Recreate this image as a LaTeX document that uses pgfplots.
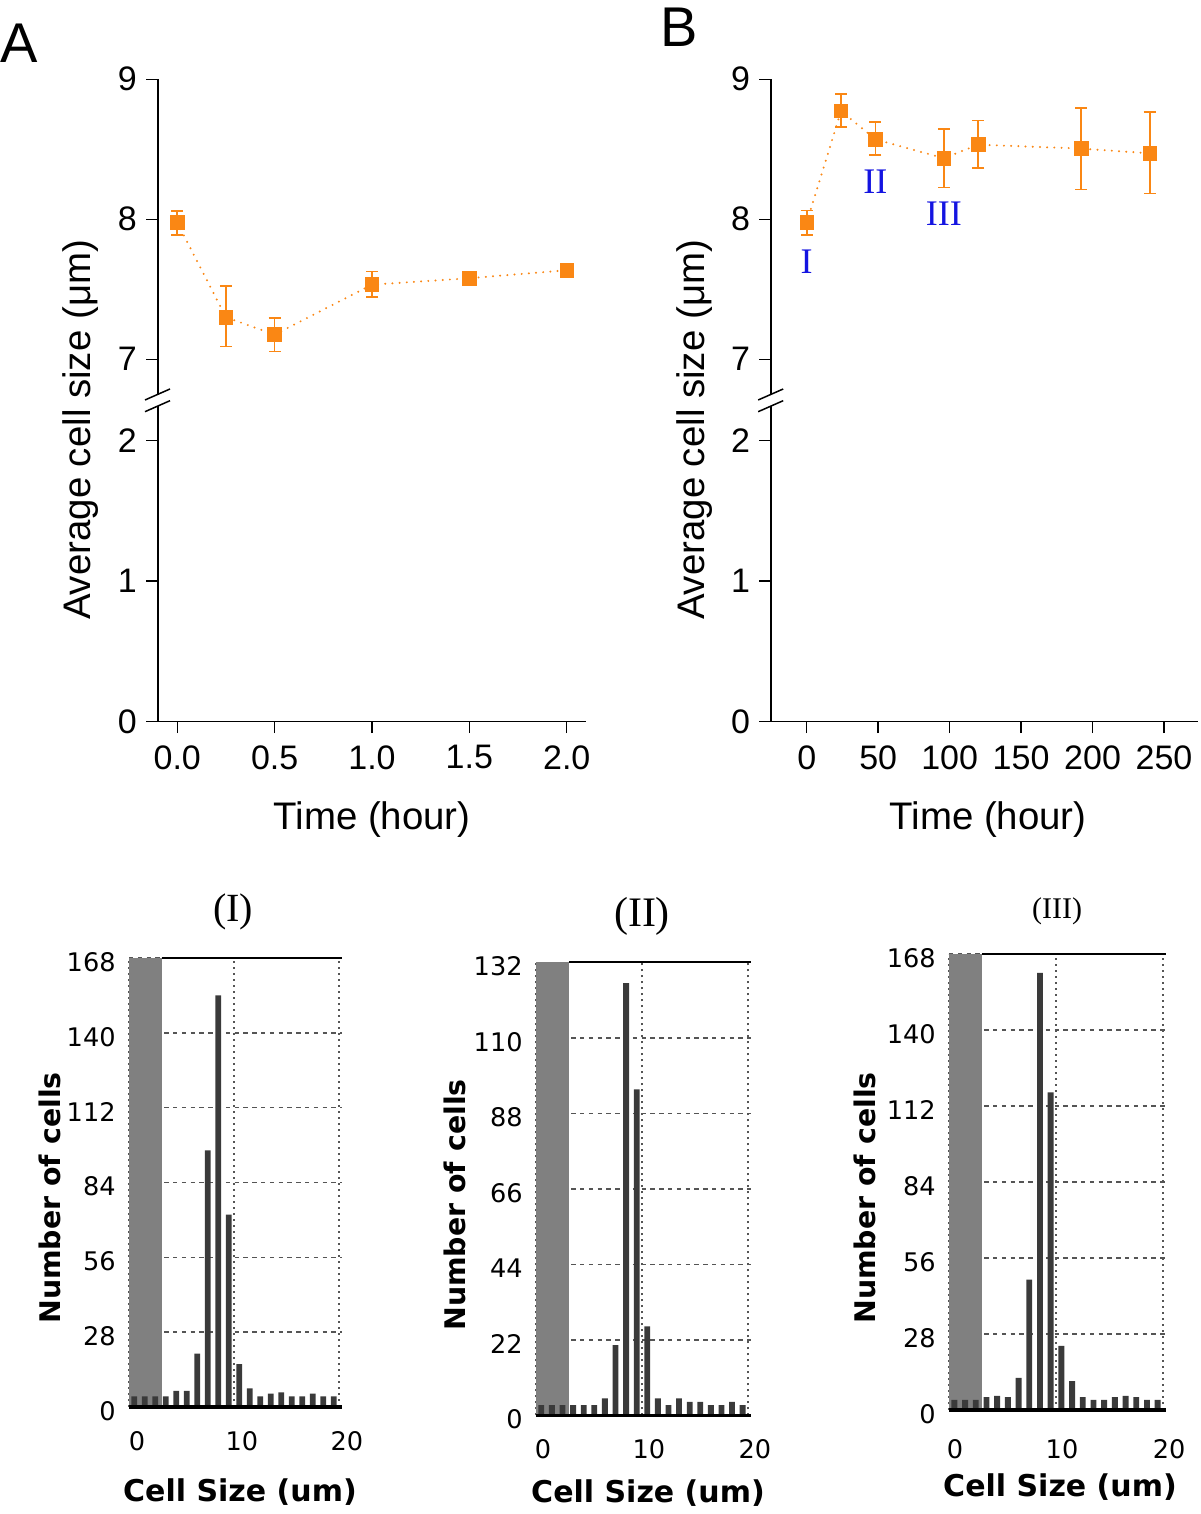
\documentclass[border=0pt]{standalone}
\usepackage{fontspec}
\setmainfont{Liberation Sans}
\newfontfamily\vfont{DejaVu Sans}
\newfontfamily\tfont{Liberation Serif}
\usepackage{pgfplots}
\usepackage{pgfplotstable}
\pgfplotsset{compat=1.18}

\definecolor{ora}{RGB}{250,135,20}
\definecolor{numblue}{RGB}{20,20,225}
\definecolor{bargray}{RGB}{58,58,58}
\definecolor{shade}{RGB}{128,128,128}
\definecolor{gridc}{RGB}{85,85,85}

% time, mean, error up, error down
\pgfplotstableread{
t     m      ep     em
0     7.976  0.085  0.090
0.25  7.300  0.224  0.210
0.5   7.176  0.119  0.121
1     7.533  0.093  0.088
1.5   7.579  0.010  0.010
2     7.636  0.010  0.010
}\dataA
\pgfplotstableread{
t     m      ep     em
0     7.976  0.088  0.090
24    8.774  0.121  0.114
48    8.571  0.124  0.114
96    8.436  0.209  0.210
120   8.533  0.172  0.166
192   8.505  0.288  0.291
240   8.471  0.296  0.288
}\dataB

\pgfplotsset{
  topbase/.style={
    scale only axis, height=157.5pt, anchor=south west, clip=false,
    axis line style={line width=0.75pt, -},
    tick style={line width=0.75pt, black},
    tick align=outside, major tick length=5.85pt,
    ticklabel style={font=\fontsize{17}{17}\selectfont},
    yticklabel style={inner sep=0pt, xshift=-4.5pt},
    xticklabel style={inner sep=0pt, yshift=-6pt},
    /pgf/number format/assume math mode=true,
  },
  dotline/.style={ora, line width=1.1pt, dash pattern=on 0pt off 3.6pt, line cap=round},
  sqmarks/.style={
    ora, only marks, mark=square*, mark size=3.4pt,
    error bars/.cd, y dir=both, y explicit,
    error bar style={line width=0.8pt},
    error mark options={rotate=90, line width=0.8pt, mark size=3pt},
  },
  hist/.style={
    scale only axis, anchor=south west, clip=false,
    xmin=0, xmax=20.25, ymin=0,
    axis line style={draw=none}, major tick length=0pt,
    xtick={0,10,20},
    xmajorgrids, ymajorgrids,
    x grid style={gridc, line width=0.7pt, dash pattern=on 1.2pt off 1.8pt},
    y grid style={gridc, line width=0.7pt, dash pattern=on 2.2pt off 2.2pt},
    ticklabel style={font=\vfont\fontsize{12.8}{12.8}\selectfont},
    yticklabel style={inner sep=0pt, anchor=east, xshift=-6.5pt, yshift=-2pt},
    /pgf/number format/assume math mode=true,
  },
  bars/.style={ybar, bar width=0.55, bar shift=0pt, fill=bargray, draw=none},
}

\begin{document}
\begin{tikzpicture}
\path[use as bounding box] (0,0) rectangle (600pt,757pt);

% ---------- panel A ----------
\begin{axis}[topbase, at={(78.9pt,559.85pt)}, width=214.2pt,
  xmin=-0.1, xmax=2.1, ymin=6.75, ymax=9,
  axis x line=none, axis y line*=left, xtick=\empty, ytick={7,8,9}]
\addplot[dotline] table[x=t, y=m] {\dataA};
\addplot[sqmarks] table[x=t, y=m, y error plus=ep, y error minus=em] {\dataA};
\end{axis}
\begin{axis}[topbase, at={(78.9pt,396.25pt)}, width=214.2pt,
  xmin=-0.1, xmax=2.1, ymin=0, ymax=2.242,
  axis x line*=bottom, axis y line*=left, ytick={0,1,2},
  xtick={0,0.5,1,1.5,2},
  xticklabel style={/pgf/number format/.cd, fixed, fixed zerofill, precision=1}]
\end{axis}
\draw[line width=0.75pt] (72.5pt,557pt) -- (85pt,562.5pt);
\draw[line width=0.75pt] (72.5pt,551.15pt) -- (85pt,556.65pt);

% ---------- panel B ----------
\begin{axis}[topbase, at={(385.5pt,559.85pt)}, width=213.65pt,
  xmin=-25, xmax=274, ymin=6.75, ymax=9,
  axis x line=none, axis y line*=left, xtick=\empty, ytick={7,8,9}]
\addplot[dotline] table[x=t, y=m] {\dataB};
\addplot[sqmarks] table[x=t, y=m, y error plus=ep, y error minus=em] {\dataB};
\node[numblue, font=\tfont\fontsize{18}{18}\selectfont] at (axis cs:0,7.695) {I};
\node[numblue, font=\tfont\fontsize{18}{18}\selectfont] at (axis cs:48,8.27) {II};
\node[numblue, font=\tfont\fontsize{18}{18}\selectfont] at (axis cs:96,8.04) {III};
\end{axis}
\begin{axis}[topbase, at={(385.5pt,396.25pt)}, width=213.65pt,
  xmin=-25, xmax=274, ymin=0, ymax=2.242,
  axis x line*=bottom, axis y line*=left, ytick={0,1,2},
  xtick={0,50,100,150,200,250}]
\end{axis}
\draw[line width=0.75pt] (379.1pt,557pt) -- (391.6pt,562.5pt);
\draw[line width=0.75pt] (379.1pt,551.15pt) -- (391.6pt,556.65pt);

% labels of the top panels
\node[font=\fontsize{28}{28}\selectfont] at (9.5pt,735.5pt) {A};
\node[font=\fontsize{28}{28}\selectfont] at (339.5pt,743.25pt) {B};
\node[rotate=90, font=\fontsize{19.2}{19.2}\selectfont] at (40.5pt,542pt) {Average cell size (μm)};
\node[rotate=90, font=\fontsize{19.2}{19.2}\selectfont] at (347.5pt,542pt) {Average cell size (μm)};
\node[font=\fontsize{19.2}{19.2}\selectfont] at (186pt,347pt) {Time (hour)};
\node[font=\fontsize{19.2}{19.2}\selectfont] at (494pt,347pt) {Time (hour)};

% ---------- histogram I ----------
\begin{axis}[hist, at={(64.5pt,53.5pt)}, width=106.3pt, height=224.5pt,
  ymax=168, ytick={0,28,56,84,112,140,168},
  xticklabel style={inner sep=0pt, anchor=north, yshift=-11.8pt, xshift=4pt}]
\addplot[fill=shade, draw=none] coordinates {(0,168) (3.1,168)} \closedcycle;
\addplot[bars] coordinates {
  (0.5,4) (1.5,4) (2.5,4) (3.5,4) (4.5,6) (5.5,6) (6.5,20) (7.5,96) (8.5,154) (9.5,72)
  (10.5,16) (11.5,7) (12.5,4) (13.5,5) (14.5,5.5) (15.5,4) (16.5,4) (17.5,5) (18.5,4) (19.5,4)
};
\addplot[black, line width=1pt] coordinates {(3.1,168) (20.25,168)};
\addplot[black, line width=1.7pt] coordinates {(0,0) (20.25,0)};
\end{axis}

% ---------- histogram II ----------
\begin{axis}[hist, at={(268pt,49.25pt)}, width=107.3pt, height=226.5pt,
  ymax=132, ytick={0,22,44,66,88,110,132},
  xticklabel style={inner sep=0pt, anchor=north, yshift=-11.6pt, xshift=3.5pt}]
\addplot[fill=shade, draw=none] coordinates {(0,132) (3.1,132)} \closedcycle;
\addplot[bars] coordinates {
  (0.5,3) (1.5,3) (2.5,3) (3.5,3) (4.5,3) (5.5,3) (6.5,5) (7.5,20.5) (8.5,126) (9.5,95)
  (10.5,26) (11.5,5) (12.5,3) (13.5,5) (14.5,4) (15.5,4) (16.5,3) (17.5,3) (18.5,4) (19.5,3)
};
\addplot[black, line width=1pt] coordinates {(3.1,132) (20.25,132)};
\addplot[black, line width=1.7pt] coordinates {(0,0) (20.25,0)};
\end{axis}

% ---------- histogram III ----------
\begin{axis}[hist, at={(474.5pt,52pt)}, width=108.35pt, height=228pt,
  ymax=168, ytick={0,28,56,84,112,140,168},
  xticklabel style={inner sep=0pt, anchor=north, yshift=-14.4pt, xshift=3pt}]
\addplot[fill=shade, draw=none] coordinates {(0,168) (3.1,168)} \closedcycle;
\addplot[bars] coordinates {
  (0.5,3.7) (1.5,3.7) (2.5,3.7) (3.5,4.7) (4.5,5.2) (5.5,4.7) (6.5,11.8) (7.5,48) (8.5,161) (9.5,117)
  (10.5,23.6) (11.5,10.6) (12.5,4.7) (13.5,3.7) (14.5,3.7) (15.5,4.7) (16.5,5.2) (17.5,4.7) (18.5,3.7) (19.5,3.7)
};
\addplot[black, line width=1pt] coordinates {(3.1,168) (20.25,168)};
\addplot[black, line width=1.7pt] coordinates {(0,0) (20.25,0)};
\end{axis}

% labels of the histograms
\node[font=\tfont\fontsize{20}{20}\selectfont] at (116.5pt,301pt) {(I)};
\node[font=\tfont\fontsize{21}{21}\selectfont] at (321pt,299pt) {(II)};
\node[font=\tfont\fontsize{15}{15}\selectfont] at (528.5pt,301.5pt) {(III)};
\node[rotate=90, font=\vfont\bfseries\fontsize{14.2}{14.2}\selectfont] at (25pt,158pt) {Number of cells};
\node[rotate=90, font=\vfont\bfseries\fontsize{14.2}{14.2}\selectfont] at (227.5pt,154.5pt) {Number of cells};
\node[rotate=90, font=\vfont\bfseries\fontsize{14.2}{14.2}\selectfont] at (432.5pt,158pt) {Number of cells};
\node[font=\vfont\bfseries\fontsize{15}{15}\selectfont] at (120pt,11pt) {Cell Size (um)};
\node[font=\vfont\bfseries\fontsize{15}{15}\selectfont] at (324pt,10.5pt) {Cell Size (um)};
\node[font=\vfont\bfseries\fontsize{15}{15}\selectfont] at (530pt,13.5pt) {Cell Size (um)};
\end{tikzpicture}
\end{document}
